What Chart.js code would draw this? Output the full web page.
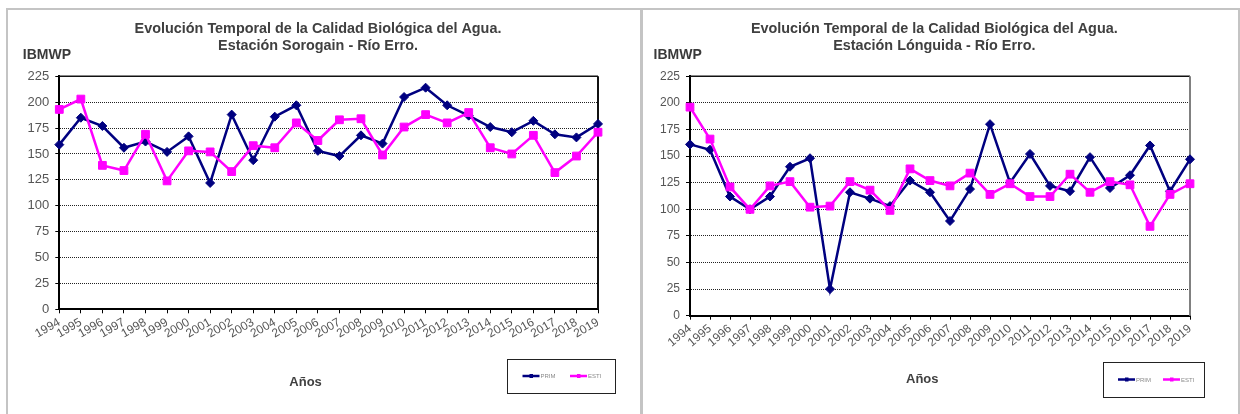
<!DOCTYPE html>
<html>
<head>
<meta charset="utf-8">
<script src="https://cdn.jsdelivr.net/npm/chart.js@4/dist/chart.umd.min.js"></script>
<style>
  body { margin: 0; background: #fff; width: 1240px; height: 414px; overflow: hidden; position: relative; }
  .frame { position: absolute; left: 6px; top: 8px; width: 1230px; height: 420px; border: 2px solid #c4c4c4; border-bottom: none; }
  .sep { position: absolute; left: 640px; top: 8px; width: 3px; height: 420px; background: #c4c4c4; }
  .panel { position: absolute; top: 0; height: 414px; }
  #leftPanel { left: 0; width: 640px; }
  #rightPanel { left: 643px; width: 595px; }
</style>
</head>
<body>
<div class="frame"></div>
<div class="sep"></div>
<div class="panel" id="leftPanel"><canvas id="sorogain"></canvas></div>
<div class="panel" id="rightPanel"><canvas id="longuida"></canvas></div>

<script>
const years = ['1994','1995','1996','1997','1998','1999','2000','2001','2002','2003','2004','2005','2006',
  '2007','2008','2009','2010','2011','2012','2013','2014','2015','2016','2017','2018','2019'];

// Estación Sorogain
const sorogainPrim = [159,185,177,156,162,152,167,122,188,144,186,197,153,148,168,160,205,214,197,187,176,171,182,169,166,179];
const sorogainEsti = [193,203,139,134,169,124,153,152,133,158,156,180,163,183,184,149,176,188,180,190,156,150,168,132,148,171];

// Estación Lónguida
const longuidaPrim = [161,156,112,100,112,140,148,25,116,110,103,127,116,89,119,180,125,152,122,117,149,120,132,160,117,147];
const longuidaEsti = [196,166,121,100,122,126,102,103,126,118,99,138,127,122,134,114,124,112,112,133,116,126,123,84,114,124];

const seriesNames = ['PRIM', 'ESTI'];
const yMin = 0, yMax = 225, yStep = 25;

const FONT = "'Liberation Sans', Arial, sans-serif";
const NAVY = '#000080';
const MAGENTA = '#ff00ff';
const AXIS_W = 40;

// title, frame around the plot area, axis captions and the boxed legend
const extrasPlugin = {
  id: 'extras',
  beforeDatasetsDraw(chart, args, o) {
    const { ctx, chartArea: a } = chart;
    ctx.save();
    ctx.lineWidth = 1.5;
    ctx.strokeStyle = '#111';
    ctx.beginPath();
    ctx.moveTo(a.left, a.top);
    ctx.lineTo(a.right, a.top);
    ctx.stroke();
    ctx.strokeStyle = o.rightEdge;
    ctx.lineWidth = 2;
    ctx.beginPath();
    ctx.moveTo(a.right, a.top);
    ctx.lineTo(a.right, a.bottom);
    ctx.stroke();
    ctx.restore();
  },
  afterDraw(chart, args, o) {
    const { ctx, chartArea: a } = chart;
    ctx.save();
    ctx.textBaseline = 'alphabetic';

    ctx.fillStyle = '#404040';
    ctx.font = `bold 14.4px ${FONT}`;
    ctx.textAlign = 'center';
    o.title.forEach((line, i) => ctx.fillText(line, o.titleX, 33 + i * 17));

    ctx.textAlign = 'left';
    ctx.fillStyle = '#3a3a3a';
    ctx.font = `bold 14px ${FONT}`;
    ctx.fillText('IBMWP', a.left - 36.5, a.top - 17);
    ctx.fillStyle = '#404040';
    ctx.font = `bold 13px ${FONT}`;
    ctx.fillText('Años', a.left + (a.right - a.left) * o.xTitleAt, o.xTitleY);

    // legend box
    const L = o.legend;
    ctx.strokeStyle = '#222';
    ctx.lineWidth = 1;
    ctx.strokeRect(L.x + 0.5, L.y + 0.5, L.w, L.h);
    const cy = L.y + L.h / 2;
    ctx.font = `6px ${FONT}`;
    ctx.textBaseline = 'middle';
    chart.data.datasets.forEach((ds, i) => {
      const x0 = L.x + L.items[i];
      ctx.strokeStyle = ds.borderColor;
      ctx.fillStyle = ds.borderColor;
      ctx.lineWidth = 2.5;
      ctx.beginPath();
      ctx.moveTo(x0, cy);
      ctx.lineTo(x0 + 17, cy);
      ctx.stroke();
      ctx.fillRect(x0 + 7, cy - 2, 3.5, 4);
      ctx.fillStyle = '#8a8a8a';
      ctx.fillText(ds.label, x0 + 18, cy + 0.5);
    });
    ctx.restore();
  }
};

function buildChart(id, prim, esti, station, s) {
  return new Chart(document.getElementById(id), {
    type: 'line',
    data: {
      labels: years,
      datasets: [
        { label: seriesNames[0], data: prim, borderColor: NAVY, backgroundColor: NAVY,
          borderWidth: 2.5, pointStyle: 'rectRot', pointRadius: 4.5, pointBorderWidth: 1,
          tension: 0, order: 1 },
        { label: seriesNames[1], data: esti, borderColor: MAGENTA, backgroundColor: MAGENTA,
          borderWidth: 2.5, pointStyle: 'rect', pointRadius: 5.5, pointBorderWidth: 1,
          tension: 0, order: 0 }
      ]
    },
    options: {
      responsive: true,
      maintainAspectRatio: false,
      animation: false,
      events: [],
      layout: { padding: { left: s.chartLeft - AXIS_W, right: s.padR, top: 76.3, bottom: s.padB } },
      plugins: {
        legend: { display: false },
        tooltip: { enabled: false },
        title: { display: false },
        extras: Object.assign({ title: ['Evolución Temporal de la Calidad Biológica del Agua.', station] }, s.extras)
      },
      scales: {
        x: {
          offset: false,
          grid: { drawOnChartArea: false, tickLength: 4, tickColor: '#000', tickWidth: 1 },
          border: { color: '#000', width: 2 },
          ticks: { color: '#555', font: { family: FONT, size: 12 }, autoSkip: false,
                   minRotation: s.rot, maxRotation: s.rot, padding: 2 },
          afterFit: sc => { sc.height = 60; }
        },
        y: {
          min: yMin, max: yMax,
          grid: { color: '#222', lineWidth: 1, tickLength: 4, tickColor: '#000', tickWidth: 1 },
          border: { color: '#000', width: 2, dash: [1, 1] },
          ticks: { stepSize: yStep, color: '#555', font: { family: FONT, size: s.yFont }, padding: 6 },
          afterFit: sc => { sc.width = AXIS_W; }
        }
      }
    },
    plugins: [extrasPlugin]
  });
}

buildChart('sorogain', sorogainPrim, sorogainEsti, 'Estación Sorogain - Río Erro.', {
  chartLeft: 59.3, padR: 42, padB: 44.7, rot: 30, yFont: 13,
  extras: { titleX: 318, rightEdge: '#111', xTitleAt: 0.427, xTitleY: 386,
            legend: { x: 507, y: 359, w: 108, h: 34, items: [15.5, 63] } }
});

buildChart('longuida', longuidaPrim, longuidaEsti, 'Estación Lónguida - Río Erro.', {
  chartLeft: 47, padR: 48, padB: 38.3, rot: 40, yFont: 12,
  extras: { titleX: 291.3, rightEdge: '#808080', xTitleAt: 0.432, xTitleY: 383,
            legend: { x: 460, y: 362, w: 101, h: 35, items: [15, 60] } }
});
</script>
</body>
</html>
